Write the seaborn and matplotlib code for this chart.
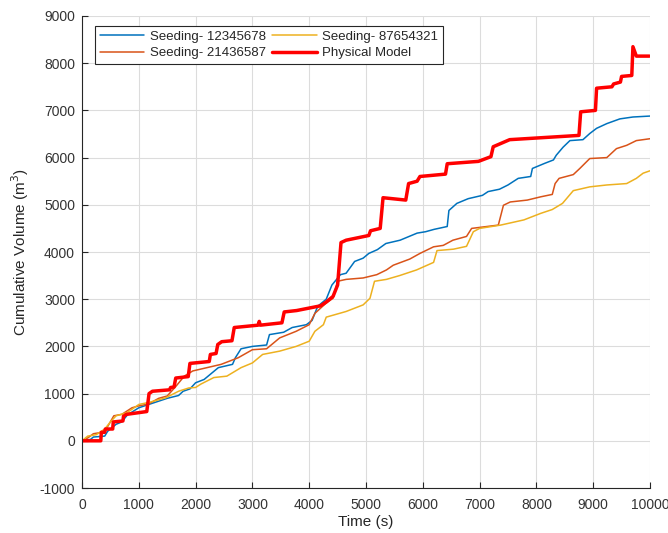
import matplotlib
matplotlib.use("Agg")
import matplotlib.pyplot as plt
import seaborn as sns
import pandas as pd

# Cumulative volume (m^3) against time (s) for three seeded runs and the physical model
t_seed1 = [0, 150, 200, 400, 450, 600, 700, 800, 1000, 1200, 1300, 1500, 1700, 1780, 1900, 2000,
           2150, 2300, 2400, 2650, 2700, 2800, 3000, 3250, 3300, 3550, 3700, 3950, 4050, 4150,
           4300, 4400, 4550, 4650, 4800, 4950, 5050, 5200, 5350, 5600, 5700, 5900, 6050, 6200,
           6430, 6460, 6600, 6800, 7050, 7150, 7350, 7500, 7680, 7900, 7930, 8150, 8300, 8350,
           8470, 8590, 8820, 8940, 9060, 9240, 9470, 9700, 10000]
v_seed1 = [0, 30, 80, 100, 200, 350, 400, 550, 700, 780, 820, 900, 960, 1050, 1100, 1230,
           1300, 1450, 1550, 1620, 1760, 1950, 2000, 2030, 2250, 2300, 2400, 2460, 2550, 2850,
           3000, 3300, 3520, 3550, 3800, 3870, 3970, 4050, 4180, 4250, 4300, 4400, 4430, 4480,
           4540, 4880, 5030, 5130, 5200, 5280, 5330, 5420, 5560, 5600, 5770, 5880, 5950, 6050,
           6220, 6360, 6380, 6510, 6620, 6720, 6820, 6860, 6880]

t_seed2 = [0, 100, 200, 350, 450, 560, 700, 880, 1000, 1170, 1350, 1500, 1650, 1800, 1950,
           2200, 2450, 2600, 2750, 3000, 3250, 3300, 3480, 3770, 4000, 4100, 4300, 4420, 4500,
           4650, 4950, 5190, 5360, 5480, 5770, 5950, 6190, 6360, 6530, 6770, 6860, 7330, 7420,
           7540, 7840, 8080, 8280, 8330, 8400, 8650, 8765, 8940, 9240, 9410, 9590, 9760, 10000]
v_seed2 = [0, 60, 150, 180, 300, 530, 560, 700, 740, 780, 900, 950, 1150, 1370, 1480,
           1550, 1620, 1690, 1760, 1930, 1950, 2000, 2180, 2320, 2460, 2700, 2920, 3020, 3380,
           3420, 3450, 3520, 3620, 3720, 3850, 3970, 4110, 4140, 4250, 4330, 4500, 4570, 4990,
           5060, 5100, 5170, 5220, 5450, 5560, 5640, 5770, 5980, 6000, 6190, 6260, 6360, 6400]

t_seed3 = [0, 100, 250, 400, 500, 600, 800, 1000, 1200, 1470, 1700, 1880, 2000, 2090, 2320,
           2550, 2800, 3000, 3180, 3480, 3770, 4000, 4100, 4250, 4300, 4650, 4950, 5070, 5150,
           5360, 5590, 5890, 6190, 6250, 6540, 6770, 6890, 7000, 7370, 7780, 8080, 8280, 8460,
           8650, 8940, 9240, 9590, 9760, 9880, 10000]
v_seed3 = [0, 100, 130, 250, 400, 530, 600, 770, 820, 910, 1050, 1120, 1130, 1200, 1340,
           1370, 1550, 1650, 1830, 1900, 2000, 2110, 2320, 2460, 2620, 2740, 2880, 3020, 3380,
           3420, 3500, 3620, 3780, 4030, 4060, 4120, 4430, 4500, 4570, 4680, 4820, 4900, 5030,
           5300, 5380, 5420, 5450, 5560, 5670, 5720]

t_model = [0, 330, 340, 400, 410, 540, 550, 720, 730, 780, 1140, 1180, 1240, 1540, 1560, 1620,
           1650, 1870, 1900, 2240, 2260, 2360, 2390, 2460, 2640, 2680, 3100, 3120, 3140, 3520,
           3560, 3780, 4200, 4300, 4420, 4500, 4560, 4650, 5050, 5080, 5250, 5300, 5700, 5750,
           5900, 5950, 6400, 6430, 6980, 7200, 7240, 7530, 8750, 8780, 9040, 9060, 9330, 9360,
           9480, 9500, 9680, 9700, 9760, 9990]
v_model = [0, 0, 180, 180, 250, 250, 400, 420, 520, 560, 620, 1000, 1050, 1080, 1130, 1140,
           1330, 1360, 1640, 1680, 1830, 1850, 2040, 2100, 2120, 2400, 2450, 2530, 2450, 2500,
           2730, 2760, 2860, 2940, 3060, 3300, 4200, 4250, 4350, 4450, 4500, 5150, 5100, 5450,
           5500, 5600, 5650, 5870, 5920, 6020, 6230, 6380, 6470, 6970, 7000, 7470, 7500, 7560,
           7600, 7720, 7740, 8350, 8150, 8150]

labels = ["Seeding- 12345678", "Seeding- 21436587", "Seeding- 87654321", "Physical Model"]
colors = ["#0072BD", "#D95319", "#EDB120", "#FF0000"]
widths = [1.1, 1.1, 1.1, 2.5]

series = [(t_seed1, v_seed1), (t_seed2, v_seed2), (t_seed3, v_seed3), (t_model, v_model)]

sns.set_theme(style="white")
plt.rcParams["font.family"] = ["Liberation Sans", "DejaVu Sans"]
plt.rcParams["axes.unicode_minus"] = False

fig = plt.figure(figsize=(6.68, 5.33), dpi=100)
ax = fig.add_axes([0.1228, 0.0844, 0.8502, 0.8856])

for (t, v), lab, c, w in zip(series, labels, colors, widths):
    df = pd.DataFrame({"Time": t, "Volume": v})
    sns.lineplot(data=df, x="Time", y="Volume", ax=ax, sort=False, estimator=None,
                 color=c, linewidth=w, label=lab)

ax.set_xlim(0, 10000)
ax.set_ylim(-1000, 9000)
ax.set_xticks(range(0, 10001, 1000))
ax.set_yticks(range(-1000, 9001, 1000))
ax.grid(True, color="#dcdcdc", linewidth=0.8)
ax.set_axisbelow(True)
for side in ["top", "right"]:
    ax.spines[side].set_visible(False)
for side in ["left", "bottom"]:
    ax.spines[side].set_color("#262626")
    ax.spines[side].set_linewidth(0.8)
ax.tick_params(axis="both", direction="in", length=4, width=0.8, color="#262626",
               labelsize=10, labelcolor="#333333", left=True, bottom=True, pad=5)
ax.tick_params(axis="x", pad=7)

ax.set_xlabel("Time (s)", fontsize=11, color="#262626", labelpad=2)
ax.set_ylabel("Cumulative Volume (m$^3$)", fontsize=11, color="#262626", labelpad=6)

leg = ax.legend(loc="upper left", ncol=2, fontsize=9.5, frameon=True, fancybox=False,
                edgecolor="#262626", framealpha=1, bbox_to_anchor=(0.018, 0.985),
                handlelength=3.4, columnspacing=0.5, borderpad=0.35, labelspacing=0.35,
                handletextpad=0.4, borderaxespad=0.2)
leg.get_frame().set_linewidth(0.8)

fig.savefig("out.png", dpi=100)
